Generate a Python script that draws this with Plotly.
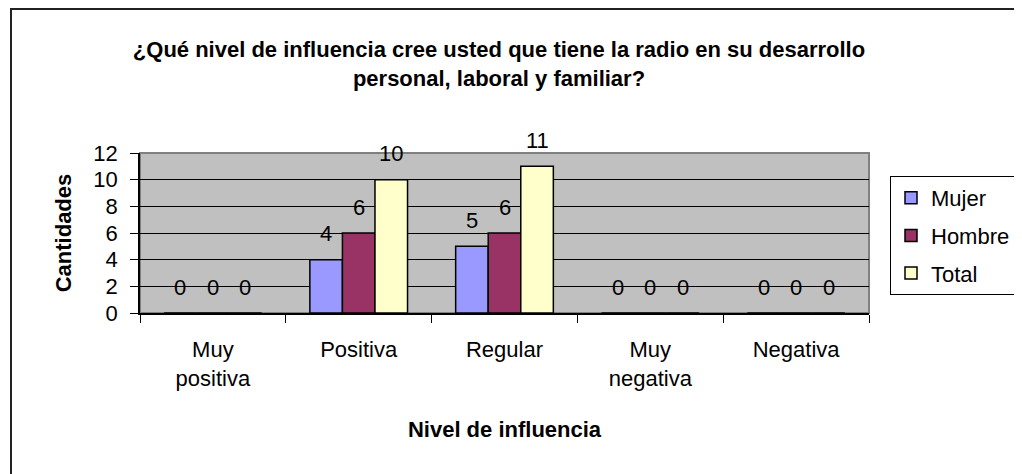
import plotly.graph_objects as go

categorias = ["Muy<br>positiva", "Positiva", "Regular", "Muy<br>negativa", "Negativa"]
mujer = [0, 4, 5, 0, 0]
hombre = [0, 6, 6, 0, 0]
total = [0, 10, 11, 0, 0]

series = [("Mujer", mujer, "#9999FF"),
          ("Hombre", hombre, "#993366"),
          ("Total", total, "#FFFFCC")]

FONT = "Liberation Sans, Arial, sans-serif"

# page body has an 8px margin, so the figure is a bit smaller than the window
W, H = 1014, 466
OFF = 8
# plot area in window pixels: x 140..869, y 153..313
L, T = 140 - OFF, 153 - OFF
R, B = W - (869 - OFF), H - (313 - OFF)
pw, ph = W - L - R, H - T - B
GAP = 0.33

def px_x(p):
    return (p - OFF - L) / pw

def px_y(p):
    return (H - B - (p - OFF)) / ph

fig = go.Figure()
for nombre, valores, color in series:
    fig.add_trace(go.Bar(
        x=categorias, y=valores, name=nombre, legendgroup=nombre,
        marker=dict(color=color, line=dict(color="black", width=1.5)),
    ))

# value labels, placed over each bar of the group
barw = pw / len(categorias) * (1 - GAP) / len(series)
notas = []
for j, (nombre, valores, color) in enumerate(series):
    for cat, v in zip(categorias, valores):
        notas.append(dict(
            x=cat, y=v, xref="x", yref="y", text=str(v), showarrow=False,
            xshift=(j - (len(series) - 1) / 2) * barw, yshift=26,
            yanchor="middle", font=dict(size=22, color="black"),
        ))

fig.update_layout(
    width=W, height=H,
    margin=dict(l=L, r=R, t=T, b=B, autoexpand=False),
    paper_bgcolor="white", plot_bgcolor="#C0C0C0",
    barmode="group", bargap=GAP, bargroupgap=0,
    font=dict(family=FONT, color="black", size=22),
    title=dict(
        text="<b>¿Qué nivel de influencia cree usted que tiene la radio en su desarrollo<br>personal, laboral y familiar?</b>",
        x=(499 - OFF) / W, xanchor="center",
        y=1 - (57 - OFF) / H, yanchor="top",
        font=dict(size=22, family=FONT),
    ),
    legend=dict(
        x=px_x(890), xanchor="left", y=px_y(176), yanchor="top",
        bordercolor="black", borderwidth=1, bgcolor="white",
        font=dict(size=22), tracegroupgap=6, itemwidth=30,
    ),
    annotations=notas,
    shapes=[
        dict(type="rect", xref="paper", yref="paper",
             x0=0, x1=1, y0=0, y1=1,
             line=dict(color="#808080", width=2), layer="below"),
        dict(type="rect", xref="paper", yref="paper",
             x0=px_x(11), x1=px_x(1060), y0=px_y(520), y1=px_y(9),
             line=dict(color="#222222", width=2)),
    ],
)

fig.update_yaxes(
    range=[0, 12], dtick=2, tickmode="linear",
    showgrid=True, gridcolor="black", gridwidth=1,
    ticks="outside", ticklen=8, tickcolor="black", ticklabelstandoff=8,
    showline=True, linecolor="black", linewidth=1.5,
    tickfont=dict(size=22), zeroline=False,
    title=dict(text="<b>Cantidades</b>", font=dict(size=22), standoff=16),
)
fig.update_xaxes(
    type="category", tickson="boundaries",
    ticks="outside", ticklen=8, tickcolor="black", ticklabelstandoff=16,
    showline=True, linecolor="black", linewidth=1.5,
    showgrid=False, tickfont=dict(size=22),
    title=dict(text="<b>Nivel de influencia</b>", font=dict(size=22), standoff=32),
)

fig.write_html("out.html")
